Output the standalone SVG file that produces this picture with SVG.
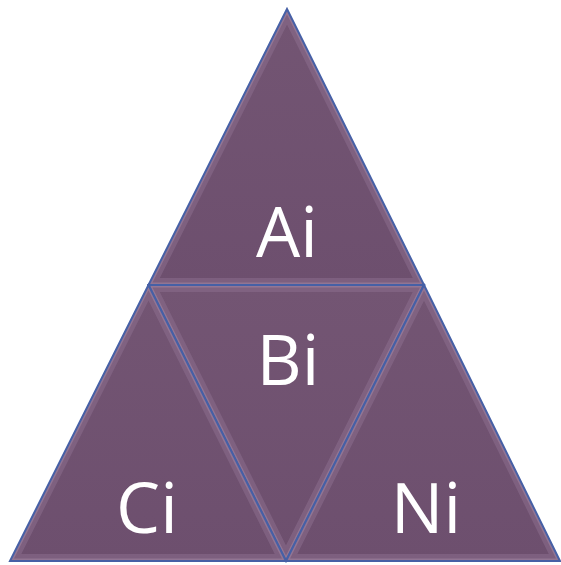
<svg xmlns="http://www.w3.org/2000/svg" width="561" height="565" viewBox="0 0 561 565">
<style>
.tri{fill:url(#g);}
.bev{fill:none;stroke:#8e7090;stroke-opacity:0.5;stroke-width:14;stroke-linejoin:miter;}
.bev2{fill:none;stroke:#b196b2;stroke-opacity:0.4;stroke-width:5;}
.edge{fill:none;stroke:#4660a6;stroke-width:2;stroke-linejoin:miter;}
.lbl{font-family:"Open Sans","Liberation Sans",sans-serif;font-size:70px;fill:#ffffff;text-anchor:middle;}
</style>
<defs>
<linearGradient id="g" x1="0" y1="0" x2="0" y2="1">
<stop offset="0" stop-color="#735573"/>
<stop offset="1" stop-color="#6d4f6e"/>
</linearGradient>
<clipPath id="cA"><polygon points="287,9 148.5,285 424,285"/></clipPath>
<clipPath id="cB"><polygon points="148.5,285 424,285 286,561"/></clipPath>
<clipPath id="cC"><polygon points="148.5,285 10,561 286,561"/></clipPath>
<clipPath id="cN"><polygon points="424,285 286,561 560,561"/></clipPath>
</defs>
<rect width="561" height="565" fill="#ffffff"/>
<g id="Ai">
<polygon class="tri" points="287,9 148.5,285 424,285"/>
<g clip-path="url(#cA)"><polygon class="bev" points="287,9 148.5,285 424,285"/><polygon class="bev2" points="287,9 148.5,285 424,285"/></g>
<polygon class="edge" points="287,9 148.5,285 424,285"/>
<text class="lbl" x="287" y="257">Ai</text>
</g>
<g id="Bi">
<polygon class="tri" points="148.5,285 424,285 286,561"/>
<g clip-path="url(#cB)"><polygon class="bev" points="148.5,285 424,285 286,561"/><polygon class="bev2" points="148.5,285 424,285 286,561"/></g>
<polygon class="edge" points="148.5,285 424,285 286,561"/>
<text class="lbl" x="288" y="385">Bi</text>
</g>
<g id="Ci">
<polygon class="tri" points="148.5,285 10,561 286,561"/>
<g clip-path="url(#cC)"><polygon class="bev" points="148.5,285 10,561 286,561"/><polygon class="bev2" points="148.5,285 10,561 286,561"/></g>
<polygon class="edge" points="148.5,285 10,561 286,561"/>
<text class="lbl" x="147" y="533">Ci</text>
</g>
<g id="Ni">
<polygon class="tri" points="424,285 286,561 560,561"/>
<g clip-path="url(#cN)"><polygon class="bev" points="424,285 286,561 560,561"/><polygon class="bev2" points="424,285 286,561 560,561"/></g>
<polygon class="edge" points="424,285 286,561 560,561"/>
<text class="lbl" x="426" y="533">Ni</text>
</g>
<g id="connectors"/>
</svg>
